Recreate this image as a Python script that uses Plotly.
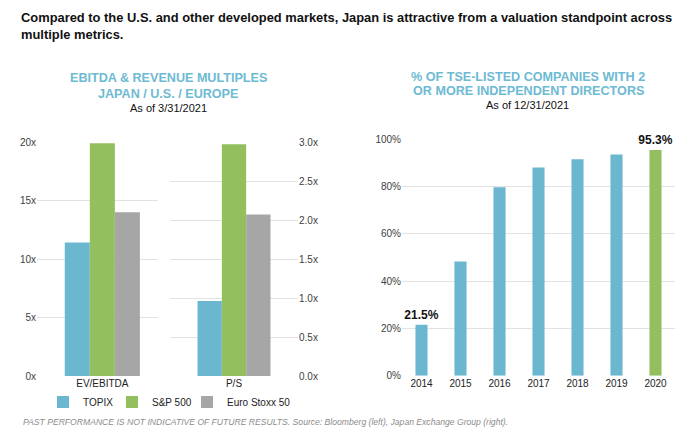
import plotly.graph_objects as go

# ---------------- data ----------------
metric_left = ["EV/EBITDA"]
metric_right = ["P/S"]
series_names = ["TOPIX", "S&P 500", "Euro Stoxx 50"]
ev_ebitda = [11.4, 19.9, 14.0]
p_s = [0.96, 2.97, 2.07]

years = ["2014", "2015", "2016", "2017", "2018", "2019", "2020"]
pct_indep = [21.5, 48.2, 79.6, 88.0, 91.4, 93.4, 95.3]

left_ticks = [0, 5, 10, 15, 20]
ps_ticks = [0, 0.5, 1.0, 1.5, 2.0, 2.5, 3.0]
right_ticks = [0, 20, 40, 60, 80, 100]

# ---------------- style ----------------
W, H = 700, 434
BLUE = "#6BB7CF"
GREEN = "#93BF5F"
GRAY = "#A6A6A6"
colors = [BLUE, GREEN, GRAY]
TITLE_BLUE = "#6DBAD3"
GRID = "#E2E2E2"
TICKC = "#404040"
FONT = "Liberation Sans, Arial, sans-serif"
legend_ids = ["legend", "legend2", "legend3"]
legend_x = [43, 112, 187]

def px(x):
    return x / W

def py(y):
    return (H - y) / H

fig = go.Figure()

wl = 0.207
wr = 0.19
for i, name in enumerate(series_names):
    fig.add_trace(go.Bar(
        x=metric_left, y=[ev_ebitda[i]], name=name, legendgroup=name,
        legend=legend_ids[i],
        marker=dict(color=colors[i], line=dict(width=0)),
        width=wl, offset=(i - 1.5) * wl, xaxis="x", yaxis="y", showlegend=True,
    ))
    fig.add_trace(go.Bar(
        x=metric_right, y=[p_s[i]], name=name, legendgroup=name,
        legend=legend_ids[i],
        marker=dict(color=colors[i], line=dict(width=0)),
        width=wr, offset=(i - 1.5) * wr, xaxis="x2", yaxis="y2", showlegend=False,
    ))

labels = [f"{v}%" if (k == 0 or k == len(pct_indep) - 1) else "" for k, v in enumerate(pct_indep)]
bar_cols = [BLUE] * (len(years) - 1) + [GREEN]
fig.add_trace(go.Bar(
    x=years, y=pct_indep, text=labels, textposition="outside",
    textfont=dict(family=FONT, size=12, color="#111111"),
    texttemplate="<b>%{text}</b>", constraintext="none",
    marker=dict(color=bar_cols, line=dict(width=0)), width=0.31,
    xaxis="x3", yaxis="y3", showlegend=False, cliponaxis=False,
))

ydom_l = [py(376), py(142)]
ydom_r = [py(375.7), py(139)]
tickfont = dict(family=FONT, size=10, color=TICKC)
common = dict(automargin=False, zeroline=False, showline=False, ticks="")

legends = {}
for lid, lx in zip(legend_ids, legend_x):
    legends[lid] = dict(orientation="h", x=px(lx), y=py(402), xanchor="left",
                        yanchor="middle", font=dict(family=FONT, size=10, color="#222222"),
                        bgcolor="rgba(0,0,0,0)", itemwidth=30)

fig.update_layout(
    template="none",
    width=W, height=H,
    margin=dict(l=0, r=0, t=0, b=0, pad=0, autoexpand=False),
    paper_bgcolor="white", plot_bgcolor="white",
    barmode="overlay",
    font=dict(family=FONT, color=TICKC),
    xaxis=dict(domain=[px(37), px(158)], anchor="y", type="category",
               range=[-0.54, 0.46], showgrid=False,
               tickfont=dict(family=FONT, size=10, color="#222222"), **common),
    yaxis=dict(domain=ydom_l, anchor="x", range=[0, 20], tickvals=left_ticks,
               ticktext=[f"{t}x" for t in left_ticks], showgrid=True, gridcolor=GRID,
               gridwidth=1, tickfont=tickfont, **common),
    xaxis2=dict(domain=[px(170), px(298)], anchor="y2", type="category",
                range=[-0.5, 0.5], showgrid=False,
                tickfont=dict(family=FONT, size=10, color="#222222"), **common),
    yaxis2=dict(domain=ydom_l, anchor="x2", side="right", range=[0, 3],
                tickvals=ps_ticks, ticktext=[f"{t:.1f}x" for t in ps_ticks],
                showgrid=True, gridcolor=GRID, gridwidth=1, tickfont=tickfont, **common),
    xaxis3=dict(domain=[px(402), px(675)], anchor="y3", type="category",
                showgrid=False, tickfont=dict(family=FONT, size=10, color="#222222"),
                **common),
    yaxis3=dict(domain=ydom_r, anchor="x3", range=[0, 100], tickvals=right_ticks,
                ticktext=[f"{t}%" for t in right_ticks], showgrid=True, gridcolor=GRID,
                gridwidth=1, tickfont=tickfont, **common),
    **legends,
)

ann = []
def add(text, x, y, size, color, bold=False, italic=False, xanchor="center"):
    t = text
    if bold:
        t = f"<b>{t}</b>"
    if italic:
        t = f"<i>{t}</i>"
    ann.append(dict(text=t, x=px(x), y=py(y), xref="paper", yref="paper",
                    xanchor=xanchor, yanchor="middle", showarrow=False,
                    font=dict(family=FONT, size=size, color=color)))

add("Compared to the U.S. and other developed markets, Japan is attractive from a valuation standpoint across",
    19, 17.5, 12.9, "#111111", bold=True, xanchor="left")
add("multiple metrics.", 19, 34, 12.9, "#111111", bold=True, xanchor="left")

add("EBITDA &amp; REVENUE MULTIPLES", 168.5, 78, 12.6, TITLE_BLUE, bold=True)
add("JAPAN / U.S. / EUROPE", 168, 94, 12.6, TITLE_BLUE, bold=True)
add("As of 3/31/2021", 168, 108, 11, "#111111")

add("% OF TSE-LISTED COMPANIES WITH 2", 527.5, 76.5, 12.6, TITLE_BLUE, bold=True)
add("OR MORE INDEPENDENT DIRECTORS", 528, 91, 12.6, TITLE_BLUE, bold=True)
add("As of 12/31/2021", 527, 105.5, 11, "#111111")

add("PAST PERFORMANCE IS NOT INDICATIVE OF FUTURE RESULTS. Source: Bloomberg (left), Japan Exchange Group (right).",
    21, 422, 8.6, "#8C8C8C", italic=True, xanchor="left")

fig.update_layout(annotations=ann)

fig.write_html(
    "out.html",
    config={"displayModeBar": False},
    post_script="document.body.style.margin='0px'; document.body.style.padding='0px';",
)
